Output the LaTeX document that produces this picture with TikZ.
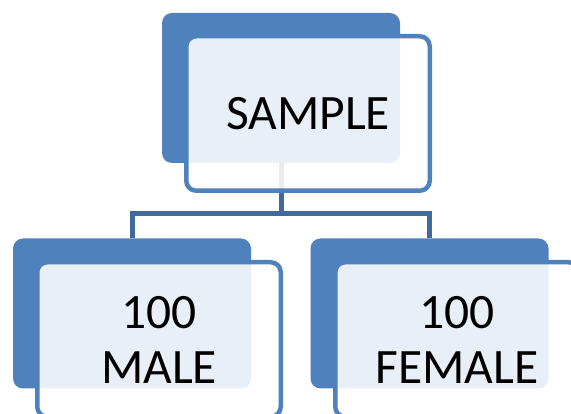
\documentclass[tikz,border=0pt]{standalone}
\usepackage{fontspec}
\setmainfont{Carlito}
\definecolor{accent}{HTML}{4F81BD}
\definecolor{connc}{HTML}{41699C}
\begin{document}
\begin{tikzpicture}[x=1pt,y=-1pt,
  backbox/.style={rectangle, fill=accent, rounded corners=10pt, inner sep=0pt, outer sep=0pt,
    minimum width=238pt, minimum height=150pt},
  frontbox/.style={rectangle, draw=accent, line width=4.5pt, fill=white, fill opacity=0.88,
    draw opacity=1, text opacity=1, rounded corners=10pt, inner sep=0pt, outer sep=0pt,
    minimum width=243.5pt, minimum height=154.5pt, align=center,
    font=\fontsize{49.5}{55}\selectfont},
  conn/.style={draw=connc, line width=5pt}]
\useasboundingbox (0,0) rectangle (571,414);
\clip (0,0) rectangle (571,414);
% back boxes
\node[backbox] (tb) at (281,88) {};
\node[backbox] (lb) at (132,313.5) {};
\node[backbox] (rb) at (429.5,313.5) {};
% connectors
\coordinate (j) at (281,214);
\draw[conn] (tb.south) -- (j) -| (lb.north);
\draw[conn] (j) -| (rb.north);
% front boxes
\node[frontbox] (t) at (308,113.5) {SAMPLE};
\node[frontbox] (l) at (159,339.5) {100\\MALE};
\node[frontbox] (r) at (457,339.5) {100\\FEMALE};
\end{tikzpicture}
\end{document}
